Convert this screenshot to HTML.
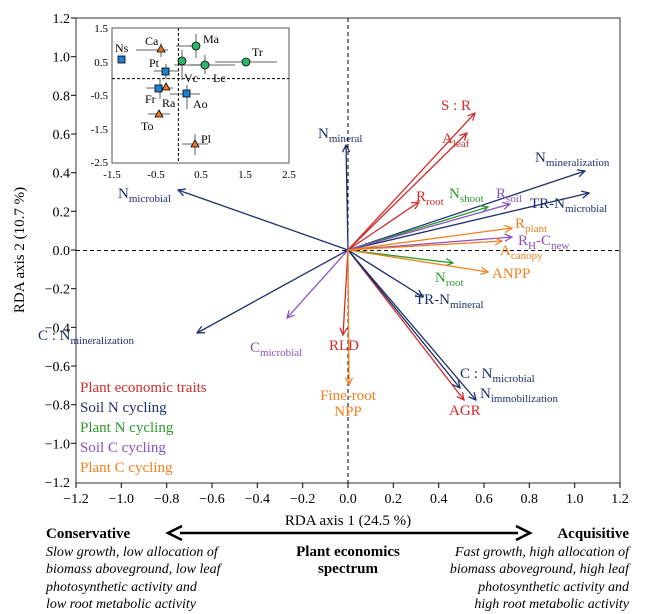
<!DOCTYPE html>
<html><head><meta charset="utf-8"><style>
body{margin:0;background:#fff}
svg{display:block;font-family:"Liberation Serif",serif}
</style></head><body>
<svg width="649" height="614" viewBox="0 0 649 614" xmlns="http://www.w3.org/2000/svg">
<defs>
<marker id="a" viewBox="0 0 10 10" refX="9" refY="5" markerWidth="9" markerHeight="9" orient="auto" markerUnits="userSpaceOnUse"><path d="M1,1 L9,5 L1,9" fill="none" stroke="context-stroke" stroke-width="1.4"/></marker>
</defs>
<rect x="76" y="18" width="544" height="465" fill="none" stroke="#555" stroke-width="1.2"/>
<line x1="348" y1="18" x2="348" y2="483" stroke="#000" stroke-dasharray="4,3"/>
<line x1="76" y1="250.5" x2="620" y2="250.5" stroke="#000" stroke-dasharray="4,3"/>
<g stroke="#000">
<line x1="76" y1="483" x2="76" y2="488"/><line x1="121.3" y1="483" x2="121.3" y2="488"/><line x1="166.7" y1="483" x2="166.7" y2="488"/><line x1="212" y1="483" x2="212" y2="488"/><line x1="257.3" y1="483" x2="257.3" y2="488"/><line x1="302.7" y1="483" x2="302.7" y2="488"/><line x1="348" y1="483" x2="348" y2="488"/><line x1="393.3" y1="483" x2="393.3" y2="488"/><line x1="438.7" y1="483" x2="438.7" y2="488"/><line x1="484" y1="483" x2="484" y2="488"/><line x1="529.3" y1="483" x2="529.3" y2="488"/><line x1="574.7" y1="483" x2="574.7" y2="488"/><line x1="620" y1="483" x2="620" y2="488"/>
</g>
<g font-size="14" text-anchor="middle">
<text x="76" y="503">−1.2</text><text x="121.3" y="503">−1.0</text><text x="166.7" y="503">−0.8</text><text x="212" y="503">−0.6</text><text x="257.3" y="503">−0.4</text><text x="302.7" y="503">−0.2</text><text x="348" y="503">0.0</text><text x="393.3" y="503">0.2</text><text x="438.7" y="503">0.4</text><text x="484" y="503">0.6</text><text x="529.3" y="503">0.8</text><text x="574.7" y="503">1.0</text><text x="620" y="503">1.2</text>
</g>
<g font-size="14" text-anchor="end">
<text x="70" y="23">1.2</text><text x="70" y="61.7">1.0</text><text x="70" y="100.3">0.8</text><text x="70" y="139">0.6</text><text x="70" y="177.7">0.4</text><text x="70" y="216.3">0.2</text><text x="70" y="255">0.0</text><text x="70" y="293.7">−0.2</text><text x="70" y="332.3">−0.4</text><text x="70" y="371">−0.6</text><text x="70" y="409.7">−0.8</text><text x="70" y="448.3">−1.0</text><text x="70" y="487">−1.2</text>
</g>
<g stroke="#000">
<line x1="71" y1="18" x2="76" y2="18"/><line x1="71" y1="56.7" x2="76" y2="56.7"/><line x1="71" y1="95.3" x2="76" y2="95.3"/><line x1="71" y1="134" x2="76" y2="134"/><line x1="71" y1="172.7" x2="76" y2="172.7"/><line x1="71" y1="211.3" x2="76" y2="211.3"/><line x1="71" y1="250" x2="76" y2="250"/><line x1="71" y1="288.7" x2="76" y2="288.7"/><line x1="71" y1="327.3" x2="76" y2="327.3"/><line x1="71" y1="366" x2="76" y2="366"/><line x1="71" y1="404.7" x2="76" y2="404.7"/><line x1="71" y1="443.3" x2="76" y2="443.3"/>
</g>
<text x="348" y="525" font-size="15" text-anchor="middle">RDA axis 1 (24.5 %)</text>
<text transform="translate(24,250) rotate(-90)" font-size="15" text-anchor="middle">RDA axis 2 (10.7 %)</text>

<g fill="none" stroke-width="1.3" marker-end="url(#a)">
<g stroke="#d42a2a">
<line x1="348" y1="250" x2="475" y2="113"/><line x1="348" y1="250" x2="467" y2="133"/><line x1="348" y1="250" x2="419" y2="202"/>
<line x1="348" y1="250" x2="343" y2="335"/><line x1="348" y1="250" x2="464" y2="400"/>
</g>
<g stroke="#1e2f6e">
<line x1="348" y1="250" x2="346" y2="145"/><line x1="348" y1="250" x2="585" y2="171"/><line x1="348" y1="250" x2="589" y2="193"/>
<line x1="348" y1="250" x2="423" y2="297"/><line x1="348" y1="250" x2="460" y2="388"/><line x1="348" y1="250" x2="476" y2="400"/>
<line x1="348" y1="250" x2="197" y2="333"/><line x1="348" y1="250" x2="178" y2="190"/>
</g>
<g stroke="#2a9a2a"><line x1="348" y1="250" x2="488" y2="207"/><line x1="348" y1="250" x2="453" y2="263"/></g>
<g stroke="#8a4fc0"><line x1="348" y1="250" x2="510" y2="204"/><line x1="348" y1="250" x2="512" y2="237"/><line x1="348" y1="250" x2="287" y2="318"/></g>
<g stroke="#f08020"><line x1="348" y1="250" x2="512" y2="228"/><line x1="348" y1="250" x2="502" y2="241"/><line x1="348" y1="250" x2="488" y2="272"/><line x1="348" y1="250" x2="349" y2="385"/></g>
</g>

<g font-size="15">
<g fill="#d42a2a">
<text x="441" y="110">S : R</text>
<text x="442" y="143">A<tspan font-size="11" dy="4">leaf</tspan></text>
<text x="416" y="201">R<tspan font-size="11" dy="4">root</tspan></text>
<text x="329" y="350">RLD</text>
<text x="449" y="415">AGR</text>
</g>
<g fill="#1e2f6e">
<text x="318" y="138">N<tspan font-size="11" dy="4">mineral</tspan></text>
<text x="535" y="162">N<tspan font-size="11" dy="4">mineralization</tspan></text>
<text x="530" y="208">TR-N<tspan font-size="11" dy="4">microbial</tspan></text>
<text x="118" y="198">N<tspan font-size="11" dy="4">microbial</tspan></text>
<text x="415" y="304">TR-N<tspan font-size="11" dy="4">mineral</tspan></text>
<text x="460" y="378">C : N<tspan font-size="11" dy="4">microbial</tspan></text>
<text x="480" y="398">N<tspan font-size="11" dy="4">immobilization</tspan></text>
<text x="38" y="340">C : N<tspan font-size="11" dy="4">mineralization</tspan></text>
</g>
<g fill="#2a9a2a">
<text x="449" y="198">N<tspan font-size="11" dy="4">shoot</tspan></text>
<text x="435" y="282">N<tspan font-size="11" dy="4">root</tspan></text>
</g>
<g fill="#8a4fc0">
<text x="496" y="198">R<tspan font-size="11" dy="4">soil</tspan></text>
<text x="518" y="245">R<tspan font-size="11" dy="4">H</tspan><tspan dy="-4">-C</tspan><tspan font-size="11" dy="4">new</tspan></text>
<text x="250" y="352">C<tspan font-size="11" dy="4">microbial</tspan></text>
</g>
<g fill="#f08020">
<text x="515" y="228">R<tspan font-size="11" dy="4">plant</tspan></text>
<text x="500" y="255">A<tspan font-size="11" dy="4">canopy</tspan></text>
<text x="492" y="278">ANPP</text>
<text x="348" y="400" text-anchor="middle">Fine-root</text>
<text x="348" y="416" text-anchor="middle">NPP</text>
</g>
</g>

<g font-size="15">
<text x="80" y="392" fill="#d42a2a">Plant economic traits</text>
<text x="80" y="412" fill="#1e2f6e">Soil N cycling</text>
<text x="80" y="432" fill="#2a9a2a">Plant N cycling</text>
<text x="80" y="452" fill="#8a4fc0">Soil C cycling</text>
<text x="80" y="472" fill="#f08020">Plant C cycling</text>
</g>

<rect x="112" y="28" width="177" height="135" fill="#fff" stroke="#555"/>
<line x1="178.4" y1="28" x2="178.4" y2="163" stroke="#000" stroke-dasharray="3,2"/>
<line x1="112" y1="78.6" x2="289" y2="78.6" stroke="#000" stroke-dasharray="3,2"/>
<g font-size="11" text-anchor="end"><text x="108" y="32">1.5</text><text x="108" y="66">0.5</text><text x="108" y="99">-0.5</text><text x="108" y="133">-1.5</text><text x="108" y="166">-2.5</text></g>
<g font-size="11" text-anchor="middle"><text x="112" y="178">-1.5</text><text x="156" y="178">-0.5</text><text x="201" y="178">0.5</text><text x="245" y="178">1.5</text><text x="289" y="178">2.5</text></g>
<g stroke="#333" stroke-width="0.8">
<line x1="136" y1="50" x2="168" y2="50"/><line x1="161" y1="43" x2="161" y2="57"/>
<line x1="176" y1="46" x2="196" y2="46"/><line x1="196" y1="34" x2="196" y2="58"/>
<line x1="174" y1="65" x2="210" y2="65"/><line x1="182" y1="50" x2="182" y2="80"/>
<line x1="190" y1="65" x2="235" y2="65"/><line x1="205" y1="55" x2="205" y2="74"/>
<line x1="215" y1="62" x2="277" y2="62"/>
<line x1="154" y1="71" x2="179" y2="71"/><line x1="166" y1="64" x2="166" y2="79"/>
<line x1="146" y1="88" x2="173" y2="88"/><line x1="160" y1="78" x2="160" y2="99"/>
<line x1="170" y1="94" x2="200" y2="94"/><line x1="187" y1="85" x2="187" y2="109"/>
<line x1="148" y1="114" x2="170" y2="114"/>
<line x1="182" y1="144" x2="208" y2="144"/><line x1="195" y1="134" x2="195" y2="155"/>
</g>
<g stroke="#000" stroke-width="0.8">
<rect x="118" y="56" width="7" height="7" fill="#1f7fd0"/>
<rect x="162" y="68" width="7" height="7" fill="#1f7fd0"/>
<rect x="155" y="85" width="7" height="7" fill="#1f7fd0"/>
<rect x="183" y="90" width="7" height="7" fill="#1f7fd0"/>
<circle cx="196" cy="46" r="4" fill="#2fb56a"/><circle cx="182" cy="61" r="4" fill="#2fb56a"/><circle cx="205" cy="65" r="4" fill="#2fb56a"/><circle cx="246" cy="62" r="4" fill="#2fb56a"/>
<path d="M161,45 L165,52 L157,52Z" fill="#f07820"/><path d="M166,83 L170,90 L162,90Z" fill="#f07820"/>
<path d="M159,110 L163,117 L155,117Z" fill="#f07820"/><path d="M195,140 L199,147 L191,147Z" fill="#f07820"/>
</g>
<g font-size="12">
<text x="115" y="52">Ns</text><text x="145" y="45">Ca</text><text x="203" y="43">Ma</text><text x="252" y="56">Tr</text>
<text x="149" y="67">Pt</text><text x="184" y="82">Vc</text><text x="213" y="82">Lc</text>
<text x="145" y="103">Fr</text><text x="162" y="107">Ra</text><text x="193" y="108">Ao</text>
<text x="141" y="130">To</text><text x="201" y="143">Pl</text>
</g>

<line x1="180" y1="533" x2="518" y2="533" stroke="#000" stroke-width="2.5"/>
<path d="M182,526 L168,533 L182,540" fill="none" stroke="#000" stroke-width="2.5"/>
<path d="M516,526 L530,533 L516,540" fill="none" stroke="#000" stroke-width="2.5"/>
<g font-size="15" font-weight="bold">
<text x="46" y="538">Conservative</text>
<text x="629" y="538" text-anchor="end">Acquisitive</text>
<text x="348" y="556" text-anchor="middle">Plant economics</text>
<text x="348" y="573" text-anchor="middle">spectrum</text>
</g>
<g font-size="14" font-style="italic">
<text x="46" y="556">Slow growth, low allocation of</text>
<text x="46" y="573">biomass aboveground, low leaf</text>
<text x="46" y="591">photosynthetic activity and</text>
<text x="46" y="608">low root metabolic activity</text>
<g text-anchor="end">
<text x="629" y="556">Fast growth, high allocation of</text>
<text x="629" y="573">biomass aboveground, high leaf</text>
<text x="629" y="591">photosynthetic activity and</text>
<text x="629" y="608">high root metabolic activity</text>
</g>
</g>
</svg>
</body></html>
